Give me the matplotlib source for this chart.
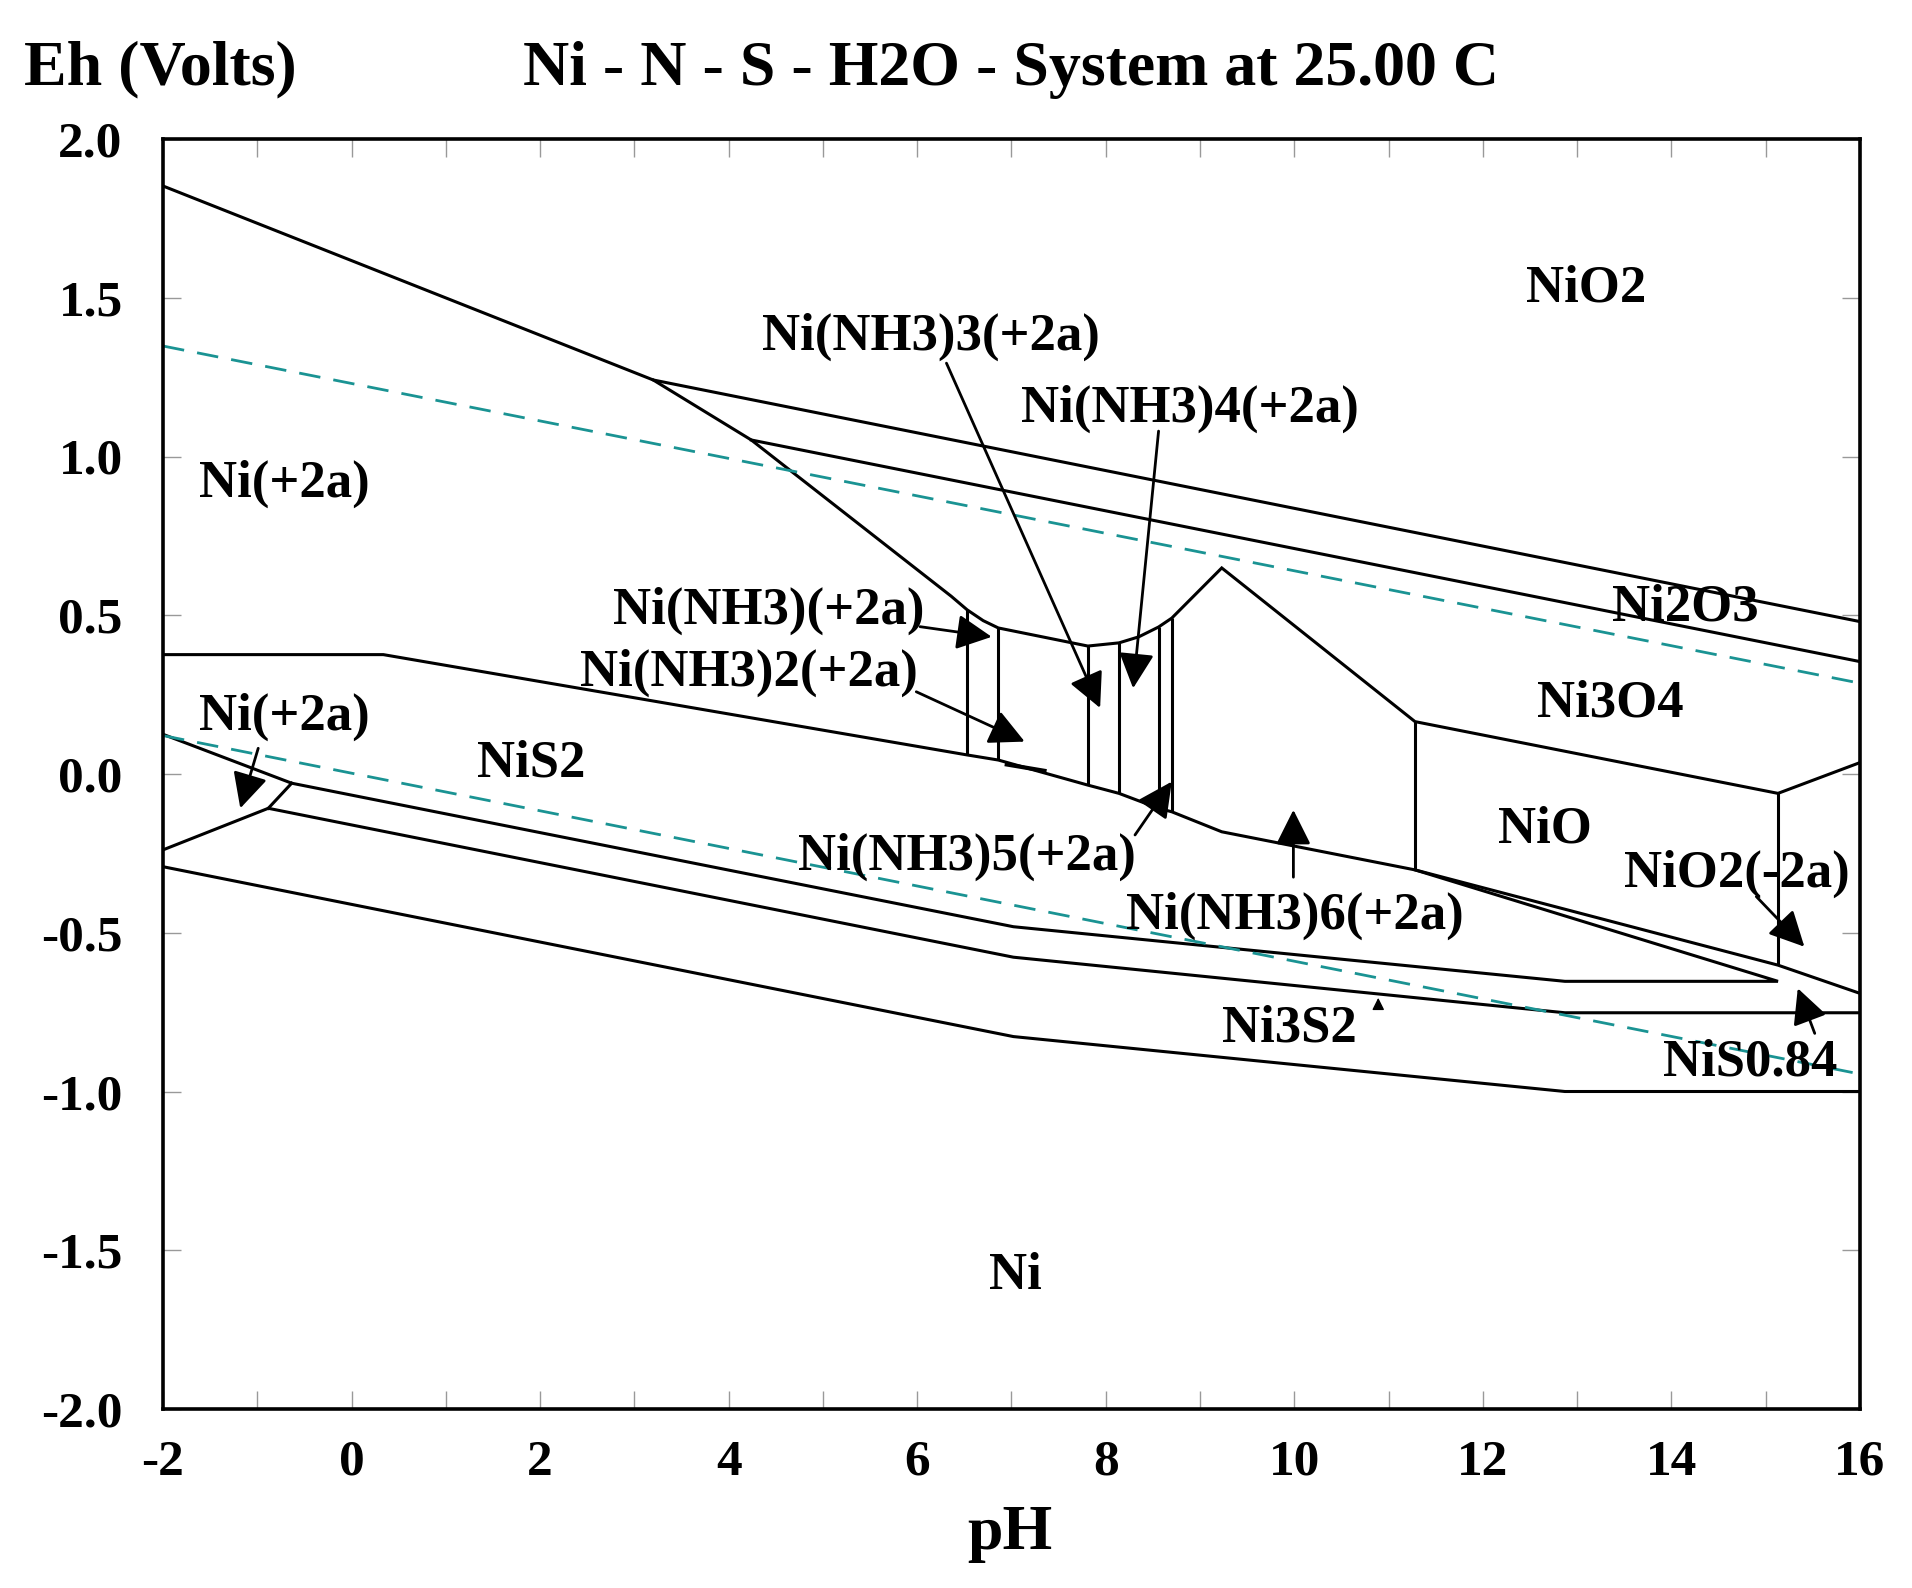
import matplotlib
matplotlib.use('Agg')
import matplotlib.pyplot as plt
from matplotlib.ticker import FixedLocator, FixedFormatter, MultipleLocator

plt.rcParams['font.family'] = ['Liberation Serif', 'DejaVu Serif']
plt.rcParams['font.weight'] = 'bold'
plt.rcParams['lines.scale_dashes'] = False

# region boundaries (pH, Eh in volts)
top_ph = [-2.0, 3.20, 16.0]
top_eh = [1.852, 1.241, 0.480]

ni2_ph = [3.20, 4.24, 6.36, 6.53, 6.70, 6.86, 7.81, 8.14, 8.35, 8.56, 8.70, 9.23, 11.28, 15.13, 16.0]
ni2_eh = [1.241, 1.052, 0.560, 0.517, 0.483, 0.460, 0.403, 0.413, 0.432, 0.463, 0.491, 0.649, 0.165, -0.061, 0.036]

ni2o3_ph = [4.24, 16.0]
ni2o3_eh = [1.052, 0.354]

nis2_ph = [-2.0, 0.337, 6.53, 6.86, 7.81, 8.14, 8.56, 8.70, 9.23, 11.28, 15.13, 16.0]
nis2_eh = [0.376, 0.376, 0.060, 0.044, -0.035, -0.061, -0.108, -0.119, -0.182, -0.302, -0.602, -0.691]

wedge_ph = [11.28, 15.13, 12.87, 7.02, -0.635, -2.0]
wedge_eh = [-0.302, -0.653, -0.653, -0.481, -0.029, 0.125]

link_ph = [-0.635, -0.883]
link_eh = [-0.029, -0.108]

ni3s2_ph = [-2.0, -0.883, 7.02, 12.87, 16.0]
ni3s2_eh = [-0.239, -0.108, -0.577, -0.752, -0.752]

ni_ph = [-2.0, 7.02, 12.87, 16.0]
ni_eh = [-0.292, -0.827, -1.0, -1.0]

short_ph = [6.95, 7.35]
short_eh = [0.030, 0.010]

vert_ph = [6.53, 6.86, 7.81, 8.14, 8.56, 8.70, 11.28, 15.13]
vert_top = [0.517, 0.460, 0.403, 0.413, 0.463, 0.491, 0.165, -0.061]
vert_bot = [0.060, 0.044, -0.035, -0.061, -0.108, -0.119, -0.302, -0.602]

# water stability limits (dashed)
water_ph = [-2.0, 16.0]
water_hi = [1.348, 0.286]
water_lo = [0.121, -0.945]

# region labels
lab_text = ['NiO2', 'Ni(NH3)3(+2a)', 'Ni(NH3)4(+2a)', 'Ni(+2a)', 'Ni(NH3)(+2a)',
            'Ni(NH3)2(+2a)', 'Ni(+2a)', 'NiS2', 'Ni(NH3)5(+2a)', 'Ni(NH3)6(+2a)',
            'Ni2O3', 'Ni3O4', 'NiO', 'NiO2(-2a)', 'NiS0.84', 'Ni3S2', 'Ni']
lab_ph = [13.10, 6.15, 8.89, -0.71, 4.43, 4.21, -0.71, 1.91, 6.53, 10.01,
          14.15, 13.35, 12.66, 14.69, 14.83, 9.95, 7.04]
lab_eh = [1.53, 1.378, 1.15, 0.915, 0.513, 0.318, 0.180, 0.032, -0.262, -0.446,
          0.523, 0.222, -0.176, -0.315, -0.909, -0.801, -1.58]

# arrows: start -> tip
arr_ph0 = [6.31, 8.56, 6.03, 5.99, 8.31, 9.99, -0.99, 14.90, 15.52]
arr_eh0 = [1.294, 1.080, 0.464, 0.259, -0.192, -0.325, 0.081, -0.386, -0.817]
arr_ph1 = [7.94, 8.29, 6.79, 7.14, 8.70, 9.99, -1.18, 15.41, 15.34]
arr_eh1 = [0.208, 0.270, 0.432, 0.102, -0.024, -0.113, -0.108, -0.544, -0.675]

x_ticks = [-2, 0, 2, 4, 6, 8, 10, 12, 14, 16]
x_labels = ['-2', '0', '2', '4', '6', '8', '10', '12', '14', '16']
y_ticks = [-2.0, -1.5, -1.0, -0.5, 0.0, 0.5, 1.0, 1.5, 2.0]
y_labels = ['-2.0', '-1.5', '-1.0', '-0.5', '0.0', '0.5', '1.0', '1.5', '2.0']

fig = plt.figure(figsize=(19.12, 15.88), dpi=100)
ax = fig.add_axes([163 / 1912, 1 - 1409 / 1588, 1697 / 1912, 1270 / 1588])

lw = 2.2
for xs, ys in [(top_ph, top_eh), (ni2_ph, ni2_eh), (ni2o3_ph, ni2o3_eh), (nis2_ph, nis2_eh),
               (wedge_ph, wedge_eh), (link_ph, link_eh), (ni3s2_ph, ni3s2_eh), (ni_ph, ni_eh)]:
    ax.plot(xs, ys, color='black', lw=lw, solid_joinstyle='miter')
ax.plot(short_ph, short_eh, color='black', lw=3.0)
ax.vlines(vert_ph, vert_bot, vert_top, color='black', lw=lw)

teal = '#1a9393'
ax.plot(water_ph, water_hi, color=teal, lw=2.0, dashes=(15.5, 9.5))
ax.plot(water_ph, water_lo, color=teal, lw=2.0, dashes=(15.5, 9.5))

for t, x, y in zip(lab_text, lab_ph, lab_eh):
    ax.text(x, y, t, fontsize=38, fontweight='bold', ha='center', va='center')

for x0, y0, x1, y1 in zip(arr_ph0, arr_eh0, arr_ph1, arr_eh1):
    ax.annotate('', xy=(x1, y1), xytext=(x0, y0),
                arrowprops=dict(arrowstyle='-|>', mutation_scale=54, lw=2.0,
                                color='black', shrinkA=0, shrinkB=0))
# tiny arrow under Ni3S2
ax.annotate('', xy=(10.89, -0.705), xytext=(10.89, -0.74),
            arrowprops=dict(arrowstyle='-|>', mutation_scale=18, lw=1.0,
                            color='black', shrinkA=0, shrinkB=0))

ax.set_xlim(-2, 16)
ax.set_ylim(-2, 2)
ax.xaxis.set_major_locator(FixedLocator(x_ticks))
ax.xaxis.set_major_formatter(FixedFormatter(x_labels))
ax.xaxis.set_minor_locator(MultipleLocator(1))
ax.yaxis.set_major_locator(FixedLocator(y_ticks))
ax.yaxis.set_major_formatter(FixedFormatter(y_labels))

ax.tick_params(which='both', direction='in', length=13, width=1.0, color='#999999',
               top=True, right=True)
ax.tick_params(axis='x', which='major', labelsize=37, pad=22)
ax.tick_params(axis='y', which='major', labelsize=37, pad=29)
for lab in ax.get_xticklabels() + ax.get_yticklabels():
    lab.set_fontweight('bold')
for s in ax.spines.values():
    s.set_linewidth(2.6)

fig.text(0.529, 0.956, 'Ni - N - S - H2O - System at 25.00 C', fontsize=46,
         fontweight='bold', ha='center', va='center')
fig.text(24 / 1912, 0.956, 'Eh (Volts)', fontsize=46, fontweight='bold',
         ha='left', va='center')
fig.text(0.528, 0.034, 'pH', fontsize=46, fontweight='bold', ha='center', va='center')

fig.savefig('out.png', dpi=100)
